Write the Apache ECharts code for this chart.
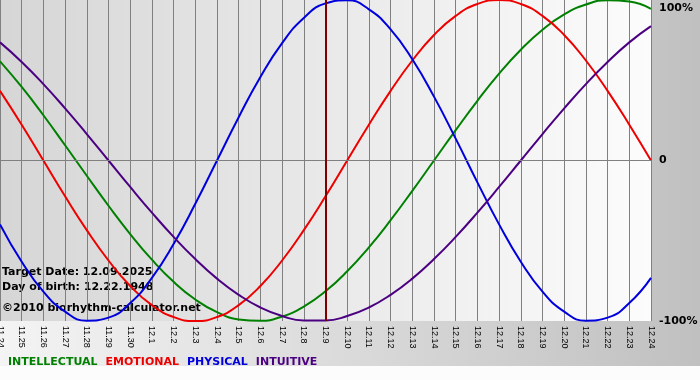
<!DOCTYPE html>
<html>
<head>
<meta charset="utf-8">
<script src="https://cdn.jsdelivr.net/npm/echarts@6/dist/echarts.min.js"></script>
<style>html,body{margin:0;padding:0;background:#fff}#c{width:700px;height:380px}</style>
</head>
<body>
<div id="c"></div>
<script>
var days = ['11.24','11.25','11.26','11.27','11.28','11.29','11.30','12.1','12.2','12.3','12.4','12.5','12.6','12.7','12.8','12.9','12.10','12.11','12.12','12.13','12.14','12.15','12.16','12.17','12.18','12.19','12.20','12.21','12.22','12.23','12.24'];
var intellectual = [0.618,0.458,0.282,0.095,-0.095,-0.282,-0.458,-0.618,-0.756,-0.866,-0.945,-0.990,-0.999,-0.972,-0.910,-0.815,-0.690,-0.541,-0.372,-0.189,0,0.189,0.372,0.541,0.690,0.815,0.910,0.972,0.999,0.990,0.945];
var emotional = [0.434,0.223,0,-0.223,-0.434,-0.623,-0.782,-0.901,-0.975,-1,-0.975,-0.901,-0.782,-0.623,-0.434,-0.223,0,0.223,0.434,0.623,0.782,0.901,0.975,1,0.975,0.901,0.782,0.623,0.434,0.223,0];
var physical = [-0.398,-0.631,-0.817,-0.942,-0.998,-0.979,-0.888,-0.731,-0.520,-0.270,0,0.270,0.520,0.731,0.888,0.979,0.998,0.942,0.817,0.631,0.398,0.136,-0.136,-0.398,-0.631,-0.817,-0.942,-0.998,-0.979,-0.888,-0.731];
var intuitive = [0.736,0.614,0.476,0.325,0.165,0,-0.165,-0.325,-0.476,-0.614,-0.736,-0.837,-0.916,-0.969,-0.997,-0.997,-0.969,-0.916,-0.837,-0.736,-0.614,-0.476,-0.325,-0.165,0,0.165,0.325,0.476,0.614,0.736,0.837];
var targetDay = '12.9';
var yTicks = {'1':'{t|100%}','0':'0','-1':'-100%'};
var infoLines = ['Target Date: 12.09.2025','Day of birth: 12.22.1948','\u00a92010 biorhythm-calculator.net'];

var colors = {INTELLECTUAL:'#008000', EMOTIONAL:'#ee0000', PHYSICAL:'#0000dd', INTUITIVE:'#4b0082'};
var font = 'DejaVu Sans';
var chart = echarts.init(document.getElementById('c'), null, {renderer:'canvas'});
function mkSeries(name, data, extra){
  var s = {name:name, type:'line', data:data, smooth:true, symbol:'none', showSymbol:false,
    lineStyle:{color:colors[name], width:2}, itemStyle:{color:colors[name]}, animation:false};
  if (extra) for (var k in extra) s[k]=extra[k];
  return s;
}
var option = {
  backgroundColor:'#fcfcfc',
  animation:false,
  graphic:[
    {type:'rect', z:-100, shape:{x:0,y:0,width:700,height:366}, silent:true,
     style:{fill:new echarts.graphic.LinearGradient(0,0,1,0,[{offset:0,color:'#f4f4f4'},{offset:1,color:'#c0c0c0'}])}},
    {type:'text', left:2, top:267, style:{text:infoLines[0], font:'bold 11px "DejaVu Sans"', fill:'#000'}},
    {type:'text', left:2, top:282, style:{text:infoLines[1], font:'bold 11px "DejaVu Sans"', fill:'#000'}},
    {type:'text', left:2, top:303, style:{text:infoLines[2], font:'bold 11px "DejaVu Sans"', fill:'#000'}}
  ],
  grid:{left:0, right:49, top:0, bottom:59, show:true, borderWidth:0, outerBoundsMode:'none', containLabel:false,
    backgroundColor:new echarts.graphic.LinearGradient(0,0,1,0,[{offset:0,color:'#d6d6d6'},{offset:1,color:'#fcfcfc'}])},
  legend:{left:3, top:357, padding:0, icon:'none', itemWidth:0, itemHeight:0, itemGap:3, selectedMode:false,
    textStyle:{fontFamily:font, fontWeight:'bold', fontSize:11},
    data:['INTELLECTUAL','EMOTIONAL','PHYSICAL','INTUITIVE'].map(function(n){return {name:n, textStyle:{color:colors[n]}};})},
  xAxis:{type:'category', data:days, boundaryGap:false,
    axisLine:{lineStyle:{color:'#808080'}},
    axisTick:{show:true, interval:0, length:4, lineStyle:{color:'#808080'}},
    splitLine:{show:true, interval:0, lineStyle:{color:'#808080', width:1}},
    axisLabel:{interval:0, rotate:-90, margin:5, color:'#000', fontFamily:'Liberation Sans', fontSize:9, hideOverlap:false}},
  yAxis:{type:'value', position:'right', min:-1, max:1, interval:1,
    axisLine:{show:false}, axisTick:{show:false}, splitLine:{show:false},
    axisLabel:{margin:8, color:'#000', fontFamily:font, fontWeight:'bold', fontSize:11,
      verticalAlignMaxLabel:'top',
      rich:{t:{padding:[3,0,0,0], color:'#000', fontFamily:font, fontWeight:'bold', fontSize:11}},
      formatter:function(v){return yTicks[String(v)];}}},
  series:[
    mkSeries('INTELLECTUAL', intellectual, {markLine:{silent:true, symbol:'none', animation:false, label:{show:false},
      data:[{yAxis:0, lineStyle:{color:'#808080', width:1, type:'solid'}},
            {xAxis:targetDay, lineStyle:{color:'#800000', width:2, type:'solid'}}]}}),
    mkSeries('EMOTIONAL', emotional),
    mkSeries('PHYSICAL', physical),
    mkSeries('INTUITIVE', intuitive)
  ]
};
chart.setOption(option);
</script>
</body>
</html>
